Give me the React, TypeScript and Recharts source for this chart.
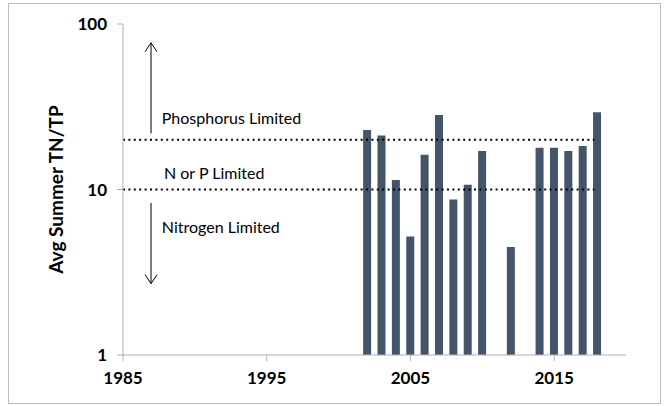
import { BarChart, Bar, XAxis, YAxis, ReferenceLine, ReferenceDot } from "recharts";

// Summer TN/TP ratio by year (missing years have no sample)
const years = [2002, 2003, 2004, 2005, 2006, 2007, 2008, 2009, 2010, 2012, 2014, 2015, 2016, 2017, 2018];
const ratios = [22.9, 21.2, 11.4, 5.2, 16.2, 28.2, 8.7, 10.7, 17.1, 4.5, 17.9, 17.9, 17.1, 18.3, 29.3];

const xTicks = [1985, 1995, 2005, 2015];
const yTicks = [1, 10, 100];

// limitation thresholds
const pLimit = 20;
const nLimit = 10;

const data = years.map((year, i) => ({ year, ratio: ratios[i] }));

const FONT = "Lato, 'Open Sans', sans-serif";
const AXIS = "#b0b0b0";

// vertical arrow: line with an open head at (x2, y2)
const Arrow = (props: any) => {
  const { x1, y1, x2, y2 } = props;
  const dir = y2 < y1 ? 1 : -1;
  return (
    <g>
      <line x1={x1} y1={y1} x2={x2} y2={y2} stroke="#000" strokeWidth={1} />
      <polyline
        points={`${x2 - 6},${y2 + dir * 9} ${x2},${y2} ${x2 + 6},${y2 + dir * 9}`}
        fill="none"
        stroke="#000"
        strokeWidth={1}
      />
    </g>
  );
};

const note = (text: string) => (props: any) => {
  const { viewBox } = props;
  return (
    <text x={viewBox.x} y={viewBox.y} dominantBaseline="central" fontFamily={FONT} fontSize={16} fill="#000">
      {text}
    </text>
  );
};

const App = () => {
  return (
    <div style={{ position: "absolute", left: 0, top: 0, width: 667, height: 406 }}>
      <div
        style={{
          position: "absolute",
          left: 8,
          top: 3,
          width: 653,
          height: 401,
          border: "1.5px solid #bcbcbc",
          boxSizing: "border-box",
        }}
      />
      <BarChart
        width={667}
        height={406}
        data={data}
        margin={{ top: 24, right: 41, bottom: 21, left: 63 }}
        style={{ position: "absolute", left: 0, top: 0 }}
      >
        <XAxis
          dataKey="year"
          type="number"
          domain={[1985, 2020]}
          ticks={xTicks}
          allowDataOverflow
          height={30}
          stroke={AXIS}
          tickSize={6}
          tickMargin={11}
          tick={{ fill: "#000", fontFamily: FONT, fontSize: 17, fontWeight: 700 }}
        />
        <YAxis
          scale="log"
          domain={[1, 100]}
          ticks={yTicks}
          allowDataOverflow
          width={60}
          stroke={AXIS}
          tickSize={6}
          tickMargin={10}
          tick={{ fill: "#000", fontFamily: FONT, fontSize: 17, fontWeight: 700 }}
          label={{
            value: "Avg Summer TN/TP",
            angle: -90,
            position: "insideLeft",
            dx: -12,
            style: { textAnchor: "middle", fill: "#000", fontFamily: FONT, fontSize: 19, fontWeight: 700 },
          }}
        />
        <Bar dataKey="ratio" fill="#44546a" barSize={8} isAnimationActive={false} />
        <ReferenceLine
          segment={[{ x: 1985, y: pLimit }, { x: 2017.8, y: pLimit }]}
          stroke="#000"
          strokeWidth={2}
          strokeDasharray="2 3.4"
          ifOverflow="visible"
        />
        <ReferenceLine
          segment={[{ x: 1985, y: nLimit }, { x: 2017.8, y: nLimit }]}
          stroke="#000"
          strokeWidth={2}
          strokeDasharray="2 3.4"
          ifOverflow="visible"
        />
        <ReferenceLine segment={[{ x: 1986.95, y: 21.8 }, { x: 1986.95, y: 77 }]} shape={Arrow} ifOverflow="visible" />
        <ReferenceLine segment={[{ x: 1986.95, y: 8.3 }, { x: 1986.95, y: 2.7 }]} shape={Arrow} ifOverflow="visible" />
        <ReferenceDot x={1987.7} y={27.3} r={0} fill="none" stroke="none" label={{ content: note("Phosphorus  Limited") }} />
        <ReferenceDot x={1987.85} y={12.7} r={0} fill="none" stroke="none" label={{ content: note("N or P Limited") }} />
        <ReferenceDot x={1987.7} y={5.95} r={0} fill="none" stroke="none" label={{ content: note("Nitrogen  Limited") }} />
      </BarChart>
    </div>
  );
};

export default App;
